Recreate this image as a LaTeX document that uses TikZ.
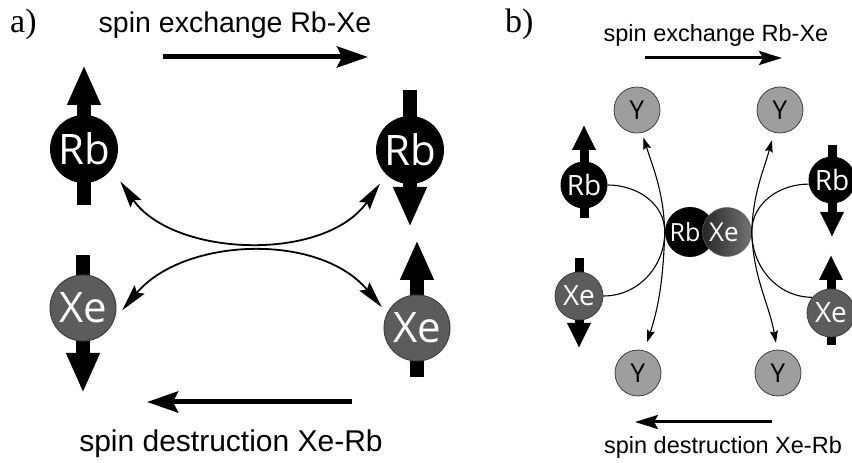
\documentclass[tikz,border=0pt]{standalone}
\usepackage{fontspec}
\setmainfont{Liberation Serif}
\newfontfamily\capfont{Liberation Sans}
\newfontfamily\atomfont{Open Sans}
\usepackage{tikz}
\usetikzlibrary{arrows.meta,calc,backgrounds}
\definecolor{xegray}{RGB}{92,92,92}
\definecolor{ygray}{RGB}{158,158,158}

\begin{document}
\begin{tikzpicture}[
  x=1pt,y=1pt,
  atom/.style={circle,inner sep=0pt,text=white},
  rbbig/.style={atom,fill=black,minimum size=68pt,font=\atomfont\fontsize{42}{42}\selectfont},
  xebig/.style={atom,fill=xegray,draw=black!75,line width=1pt,minimum size=66pt,font=\atomfont\fontsize{42}{42}\selectfont},
  rbsmall/.style={atom,fill=black,minimum size=47pt,font=\atomfont\fontsize{28}{28}\selectfont},
  xesmall/.style={atom,fill=xegray,draw=black!75,line width=0.8pt,minimum size=48pt,font=\atomfont\fontsize{28}{28}\selectfont},
  yatom/.style={circle,inner sep=0pt,fill=ygray,draw=black!75,line width=0.8pt,minimum size=46pt,font=\atomfont\fontsize{26}{26}\selectfont},
  panel/.style={anchor=base west,inner sep=0pt,font=\fontsize{34}{34}\selectfont},
  capbig/.style={anchor=base,inner sep=0pt,font=\capfont\fontsize{#1}{#1}\selectfont},
  spinA/.style={line width=14pt,-{Triangle[length=40pt,width=31pt]}},
  spinB/.style={line width=9pt,-{Triangle[length=25pt,width=22pt]}},
  dirA/.style={line width=5pt,-{Stealth[length=31pt,width=21pt,inset=5pt]}},
  dirB/.style={line width=3pt,-{Stealth[length=23pt,width=14pt,inset=4pt]}},
  dbl/.style={line width=1.8pt,{Stealth[length=27pt,width=13pt,inset=4pt]}-{Stealth[length=27pt,width=13pt,inset=4pt]}},
  link/.style={line width=1.1pt},
  thinarr/.style={line width=1.1pt,-{Stealth[length=12pt,width=8pt,inset=2pt]}}
]
\useasboundingbox (0,0) rectangle (852,463);

% panel a
\node[panel] (labA) at (10,430) {a)};
\node[capbig=28.5] (exA) at (235,430) {spin exchange Rb-Xe};
\node[capbig=30] (deA) at (231,11) {spin destruction Xe-Rb};

\node[rbbig] (rbA) at (84,314) {Rb};
\node[rbbig] (rbB) at (410,313) {Rb};
\node[xebig] (xeA) at (83,155) {Xe};
\node[xebig] (xeB) at (417,135) {Xe};

\begin{scope}[on background layer]
  \draw[spinA] ($(rbA)+(0,-56)$) -- ($(rbA)+(0,84)$);
  \draw[spinA] ($(rbB)+(0,60)$) -- ($(rbB)+(0,-77)$);
  \draw[spinA] ($(xeA)+(0,53)$) -- ($(xeA)+(0,-85)$);
  \draw[spinA] ($(xeB)+(0,-49)$) -- ($(xeB)+(0,88)$);
\end{scope}

\coordinate (exAs) at (163,406);
\coordinate (exAe) at (368,406);
\coordinate (deAs) at (352,61);
\coordinate (deAe) at (147,61);
\draw[dirA] (exAs) -- (exAe);
\draw[dirA] (deAs) -- (deAe);

\draw[dbl,shorten <=15pt,shorten >=11pt] (rbA.-36) to[out=-55,in=-125] (rbB.-134);
\draw[dbl,shorten <=12pt,shorten >=8pt] (xeA.-20) to[out=50,in=130] (xeB.154);

% panel b
\node[panel] (labB) at (505,430) {b)};
\node[capbig=23.5] (exB) at (716,421) {spin exchange Rb-Xe};
\node[capbig=23.5] (deB) at (723,9) {spin destruction Xe-Rb};

\node[rbsmall] (rbL) at (584,278) {Rb};
\node[xesmall] (xeL) at (579,167) {Xe};
\node[rbsmall] (rbR) at (832,283) {Rb};
\node[xesmall] (xeR) at (831,150) {Xe};

\node[yatom] (yTL) at (637,353) {Y};
\node[yatom] (yTR) at (780,353) {Y};
\node[yatom] (yBL) at (638,90) {Y};
\node[yatom] (yBR) at (778,90) {Y};

\node[rbsmall,minimum size=50pt,font=\atomfont\fontsize{25}{25}\selectfont] (rbM) at (690,231) {Rb\kern10pt};
\node[atom,minimum size=49pt,left color=black!85,right color=black!55,draw=black!60,line width=0.5pt,font=\atomfont\fontsize{26}{26}\selectfont] (xeM) at (727,231) {Xe\kern6pt};

\begin{scope}[on background layer]
  \draw[spinB] ($(rbL)+(0,-33)$) -- ($(rbL)+(0,60)$);
  \draw[spinB] ($(xeL)+(0,38)$) -- ($(xeL)+(0,-52)$);
  \draw[spinB] ($(rbR)+(0,35)$) -- ($(rbR)+(0,-57)$);
  \draw[spinB] ($(xeR)+(0,-32)$) -- ($(xeR)+(0,58)$);
\end{scope}

\coordinate (exBs) at (645,405);
\coordinate (exBe) at (782,405);
\coordinate (deBs) at (772,41);
\coordinate (deBe) at (635,41);
\draw[dirB] (exBs) -- (exBe);
\draw[dirB] (deBs) -- (deBe);

\draw[link] (rbL.east) to[out=0,in=90] (rbM.west) to[out=-90,in=0] (xeL.east);
\draw[link] (rbR.190) to[out=180,in=90] (xeM.east) to[out=-90,in=180] (xeR.140);

\draw[thinarr,shorten >=5pt] (rbM.west) to[out=92,in=-72] (yTL.-78);
\draw[thinarr,shorten >=9pt] (rbM.west) to[out=-92,in=72] (yBL.74);
\draw[thinarr,shorten >=8pt] (xeM.east) to[out=88,in=-105] (yTR.-105);
\draw[thinarr,shorten >=7pt] (xeM.east) to[out=-88,in=100] (yBR.92);
\end{tikzpicture}
\end{document}
